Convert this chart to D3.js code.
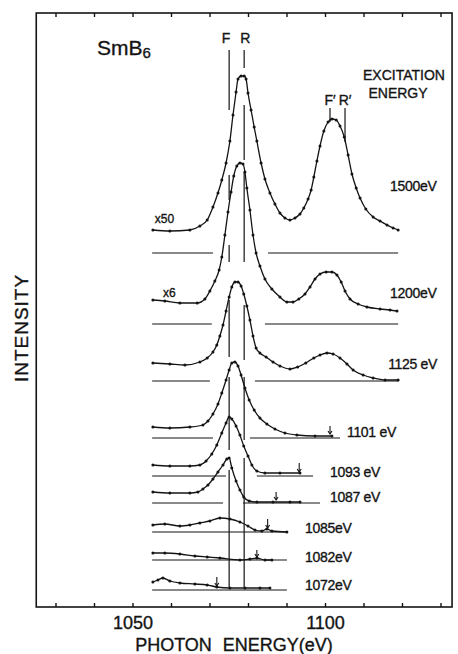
<!DOCTYPE html>
<html><head><meta charset="utf-8">
<script src="https://cdn.jsdelivr.net/npm/d3@7"></script>
<style>html,body{margin:0;padding:0;background:#fff} text{stroke:#141414;stroke-width:0.35px}</style>
</head><body><svg id="c" width="458" height="654"></svg>
<script>
// ---------- DATA ----------
const xTicks = [1030,1040,1050,1060,1070,1080,1090,1100,1110,1120,1130];
const xTickLabels = [1050,1100];
const excitationLabels = ["1500eV","1200eV","1125 eV","1101 eV","1093 eV","1087 eV","1085eV","1082eV","1072eV"];
const offsets = [354,283,226,169,131,104,75,47,17];   // vertical offset of each spectrum (arb. units)
const multipliers = ["x50","x6"];

const s1500 = [[1055.3,23],[1059.7,22],[1064.9,23],[1067.5,27],[1069.4,33],[1070.9,46],[1072.2,60],[1073.2,73],[1074.3,90],[1075.3,112],[1076.1,138],[1076.9,161],[1077.4,174],[1078.2,177],[1079.0,177],[1079.5,174],[1080.0,160],[1080.8,143],[1081.6,126],[1082.3,112],[1083.4,90],[1084.4,74],[1085.7,60],[1087.0,49],[1088.3,40],[1089.6,35],[1090.9,33],[1092.2,35],[1093.5,39],[1094.5,45],[1095.6,54],[1096.4,63],[1097.1,76],[1097.9,92],[1098.7,107],[1099.7,122],[1100.8,131],[1101.8,134],[1102.9,133],[1103.9,127],[1105.0,116],[1106.0,98],[1107.0,79],[1108.1,65],[1109.1,55],[1110.6,44],[1112.5,36],[1114.3,32],[1116.1,28],[1117.7,25],[1119.0,23]];
const s1200 = [[1055.3,24],[1058.4,23],[1062.3,21],[1066.8,21],[1068.8,25],[1070.1,33],[1071.4,43],[1072.5,54],[1073.2,67],[1074.0,89],[1074.8,112],[1075.6,132],[1076.3,148],[1077.1,158],[1077.9,161],[1078.7,160],[1079.2,152],[1079.7,136],[1080.5,114],[1081.3,89],[1082.1,71],[1083.1,58],[1084.4,45],[1086.2,35],[1088.3,27],[1090.1,22],[1091.7,22],[1093.2,25],[1094.8,30],[1096.1,37],[1097.4,45],[1098.7,50],[1100.3,52],[1101.8,52],[1103.1,49],[1104.2,42],[1105.2,33],[1106.5,25],[1108.6,20],[1110.9,17],[1114.3,15],[1116.9,14],[1118.7,13]];
const s1125 = [[1055.3,18],[1059.7,17],[1063.6,16],[1067.5,19],[1069.4,23],[1070.9,29],[1071.9,36],[1072.7,45],[1073.5,56],[1074.3,70],[1075.1,84],[1075.8,94],[1076.6,99],[1077.4,99],[1078.2,95],[1078.9,87],[1079.7,75],[1080.5,61],[1081.3,45],[1082.1,33],[1083.1,28],[1084.7,24],[1086.5,19],[1088.3,15],[1090.9,12],[1092.9,14],[1095.0,18],[1097.1,23],[1098.7,26],[1100.5,28],[1102.1,27],[1103.9,23],[1105.7,17],[1107.3,11],[1109.9,6],[1112.5,3],[1115.6,1],[1119.0,1]];
const s1101 = [[1055.3,11],[1059.7,10],[1064.9,11],[1068.3,13],[1069.6,17],[1070.9,24],[1072.2,34],[1073.2,45],[1074.3,58],[1075.1,68],[1075.8,75],[1076.6,76],[1077.4,72],[1078.2,63],[1079.2,50],[1080.3,38],[1081.6,28],[1083.1,20],[1084.9,14],[1087.0,9],[1089.6,5],[1092.7,3],[1097.4,2],[1101.8,2]];
const s1093 = [[1055.3,11],[1059.7,10],[1064.9,10],[1067.5,11],[1069.1,15],[1070.6,22],[1071.9,31],[1073.2,43],[1074.3,53],[1075.1,59],[1075.8,57],[1076.9,50],[1077.9,41],[1078.9,30],[1080.0,20],[1081.0,11],[1082.3,5],[1084.4,3],[1088.3,3],[1093.5,3]];
const s1087 = [[1055.3,11],[1059.7,10],[1064.9,10],[1067.0,11],[1068.3,14],[1069.6,18],[1070.9,24],[1072.2,31],[1073.5,38],[1074.5,44],[1075.1,45],[1075.8,35],[1076.9,22],[1077.9,13],[1078.9,6],[1080.3,2],[1082.3,1],[1086.5,1],[1090.9,1],[1093.5,1]];
const s1085 = [[1055.3,7],[1058.4,8],[1062.3,6],[1064.9,7],[1067.5,9],[1070.1,11],[1072.7,14],[1075.3,13],[1077.9,10],[1080.0,6],[1081.8,2],[1083.6,1],[1084.9,3],[1086.2,1],[1090.1,0]];
const s1082 = [[1055.3,7],[1058.4,7],[1062.3,6],[1066.2,4],[1069.4,3],[1072.7,2],[1077.9,0],[1080.5,1],[1082.3,2],[1084.4,0],[1086.2,0]];
const s1072 = [[1055.3,8],[1056.6,10],[1057.9,12],[1059.7,9],[1062.3,7],[1066.2,6],[1069.4,5],[1071.9,3],[1075.3,2],[1079.2,2],[1083.1,2],[1085.7,2]];
const spectra = [s1500,s1200,s1125,s1101,s1093,s1087,s1085,s1082,s1072];

const baseSegments = [
  [[1055.1,1070.9],[1085.2,1119.0]],
  [[1055.1,1070.6],[1084.4,1119.0]],
  [[1055.1,1070.1],[1081.8,1119.0]],
  [[1055.1,1070.9],[1080.5,1103.9]],
  [[1055.1,1074.3],[1082.3,1096.9]],
  [[1055.1,1073.5],[1078.7,1098.7]],
  [[1055.1,1090.1]],
  [[1055.1,1090.1]],
  [[1055.1,1090.1]]
];
// excitation-energy arrows: [energy, top, bottom]
const arrows = [[1101.3,181,173],[1093.3,144,135],[1087.3,115,107],[1085.1,88,79],[1082.3,57,50],[1071.9,30,21]];
// F, R and F', R' markers
const lineF = 1075.1, lineR = 1079.0, lineF2 = 1101.3, lineR2 = 1105.2;
const segF = [[557,497],[432,407],[362,345],[307,250],[230,157],[137,20]];
const segR = [[557,539],[502,447],[435,345],[302,247],[230,167],[149,20]];
const segF2 = [[499,485]], segR2 = [[499,465]];

// ---------- DRAW ----------
const svg = d3.select("#c");
const font = "'Liberation Sans', Arial, Helvetica, sans-serif";
const ink = "#141414";
const x = d3.scaleLinear().domain([1025,1133]).range([36.25,452.05]);
const y = d3.scaleLinear().domain([0,594]).range([607,13]);

// frame
svg.append("rect").attr("x",x(1025)).attr("y",y(594)).attr("width",x(1133)-x(1025)).attr("height",y(0)-y(594))
  .attr("fill","none").attr("stroke",ink).attr("stroke-width",1.6);

const bottomAxis = d3.axisBottom(x).tickValues(xTicks).tickSize(-4).tickPadding(9)
  .tickFormat(d => xTickLabels.includes(d) ? d : "");
const gB = svg.append("g").attr("transform",`translate(0,${y(0)})`).call(bottomAxis);
const topAxis = d3.axisTop(x).tickValues(xTicks).tickSize(-4).tickFormat("");
const gT = svg.append("g").attr("transform",`translate(0,${y(594)})`).call(topAxis);
[gB,gT].forEach(g=>{
  g.select(".domain").remove();
  g.selectAll(".tick line").attr("stroke",ink).attr("stroke-width",1.4);
  g.selectAll(".tick text").attr("fill",ink).style("font-family",font).style("font-size","18px");
});

svg.append("text").attr("x",234).attr("y",651).attr("text-anchor","middle")
  .style("font-family",font).style("font-size","18px").style("word-spacing","6px").attr("fill",ink)
  .text("PHOTON ENERGY(eV)");
svg.append("text").attr("transform","translate(28,328) rotate(-90)").attr("text-anchor","middle")
  .style("font-family",font).style("font-size","19px").style("letter-spacing","1px").attr("fill",ink)
  .text("INTENSITY");

// SmB6
const sm = svg.append("text").attr("x",x(1040.8)).attr("y",y(552)).style("font-family",font)
  .style("font-size","21px").attr("fill",ink);
sm.append("tspan").text("SmB");
sm.append("tspan").attr("dy",3).style("font-size","15px").text("6");

// excitation header
svg.append("text").attr("x",404).attr("y",y(527)).attr("text-anchor","middle").style("font-family",font)
  .style("font-size","14px").attr("fill",ink).text("EXCITATION");
svg.append("text").attr("x",398).attr("y",y(509)).attr("text-anchor","middle").style("font-family",font)
  .style("font-size","14px").attr("fill",ink).text("ENERGY");

// F R lines
const vline = (E, segs) => segs.forEach(s => svg.append("line").attr("x1",x(E)).attr("x2",x(E))
  .attr("y1",y(s[0])).attr("y2",y(s[1])).attr("stroke",ink).attr("stroke-width",1.2));
vline(lineF,segF); vline(lineR,segR); vline(lineF2,segF2); vline(lineR2,segR2);
const lab = (t,E,u) => svg.append("text").attr("x",x(E)).attr("y",y(u)).attr("text-anchor","middle")
  .style("font-family",font).style("font-size","14px").attr("fill",ink).text(t);
lab("F",lineF-0.8,564); lab("R",lineR+0.3,564); lab("F′",lineF2,502); lab("R′",lineR2,502);

// spectra
const line = d3.line().x(d=>x(d[0])).curve(d3.curveMonotoneX);
spectra.forEach((s,i)=>{
  const off = offsets[i];
  baseSegments[i].forEach(seg => svg.append("line").attr("x1",x(seg[0])).attr("x2",x(seg[1]))
    .attr("y1",y(off)).attr("y2",y(off)).attr("stroke",ink).attr("stroke-width",1.2));
  svg.append("path").datum(s).attr("d",line.y(d=>y(d[1]+off))).attr("fill","none")
    .attr("stroke",ink).attr("stroke-width",1.3);
  svg.append("g").selectAll("circle").data(s).join("circle")
    .attr("cx",d=>x(d[0])).attr("cy",d=>y(d[1]+off)).attr("r",1.5).attr("fill",ink);
});

// excitation labels placement
const labelPos = [[1116.9,416],[1116.9,309],[1116.4,238],[1105.7,170],[1101.3,130],[1101.3,105],[1094.8,74],[1094.8,45],[1094.8,17]];
excitationLabels.forEach((t,i)=>{
  svg.append("text").attr("x",x(labelPos[i][0])).attr("y",y(labelPos[i][1])).style("font-family",font)
    .style("font-size","14px").style("letter-spacing","-0.3px").attr("fill",ink).text(t);
});
const multPos = [[1055.8,384],[1057.9,310]];
multipliers.forEach((t,i)=>{
  svg.append("text").attr("x",x(multPos[i][0])).attr("y",y(multPos[i][1])).style("font-family",font)
    .style("font-size","12px").attr("fill",ink).text(t);
});

// arrows
arrows.forEach(a=>{
  const xa = x(a[0]), yt = y(a[1]), yb = y(a[2]);
  svg.append("line").attr("x1",xa).attr("x2",xa).attr("y1",yt).attr("y2",yb).attr("stroke",ink).attr("stroke-width",1.1);
  svg.append("path").attr("d",`M${xa-2},${yb-3}L${xa},${yb}L${xa+2},${yb-3}`).attr("fill","none").attr("stroke",ink).attr("stroke-width",1.1);
});
</script></body></html>
